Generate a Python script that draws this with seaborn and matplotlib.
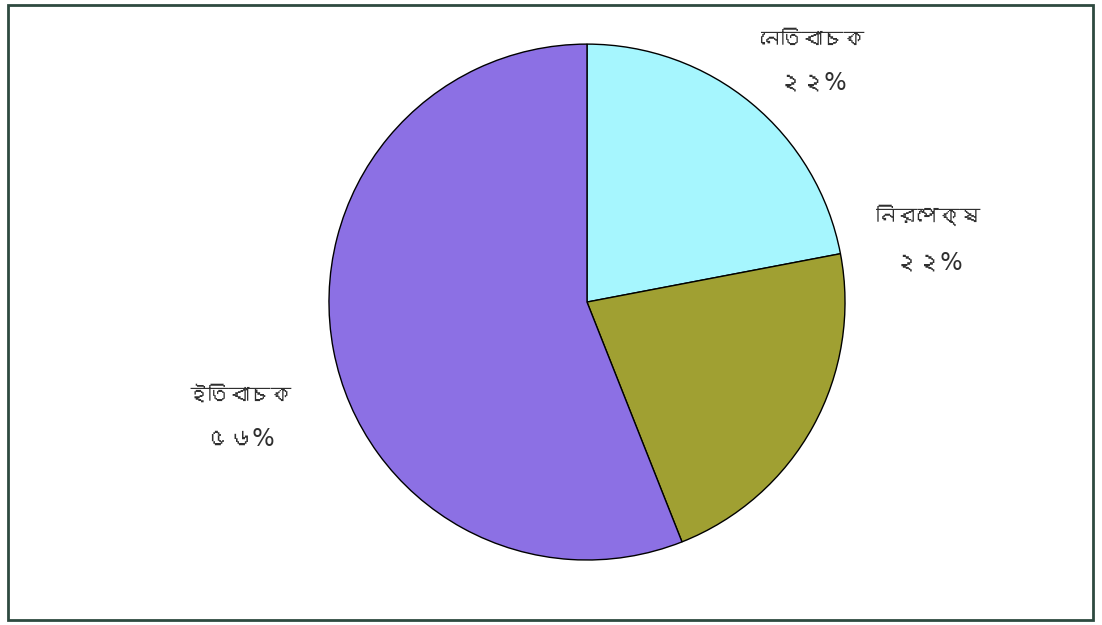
import matplotlib
matplotlib.use("Agg")
import matplotlib.pyplot as plt
import seaborn as sns
from matplotlib import font_manager
from matplotlib.patches import Rectangle

categories = ["নেতিবাচক", "নিরপেক্ষ", "ইতিবাচক"]
values = [22, 22, 56]
pct_labels = ["২২%", "২২%", "৫৬%"]
colors = ["#A6F6FE", "#A0A032", "#8C70E4"]

sns.set_theme(style="white")

# find a font with Bengali glyphs, if any
beng_family = None
try:
    from fontTools.ttLib import TTFont
    for f in font_manager.fontManager.ttflist:
        try:
            tt = TTFont(f.fname, fontNumber=0, lazy=True)
            cmap = tt.getBestCmap()
            if cmap and 0x09A8 in cmap and 0x09C7 in cmap:
                beng_family = f.name
                break
        except Exception:
            continue
except Exception:
    pass

families = ([beng_family] if beng_family else []) + ["DejaVu Sans"]
pct_families = ["DejaVu Sans"] + ([beng_family] if beng_family else [])
plt.rcParams["font.family"] = families

fig = plt.figure(figsize=(11.02, 6.25), dpi=100)
fig.patch.set_facecolor("white")
ax = fig.add_axes([0, 0, 1, 1])

ax.pie(values, colors=colors, startangle=90, counterclock=False,
       radius=1.0, wedgeprops=dict(edgecolor="black", linewidth=1.0))
ax.set_xlim(-2.275, 1.996)
ax.set_ylim(-1.252, 1.171)
ax.set_aspect("equal", adjustable="datalim")
ax.axis("off")

label_pos = [(0.872, 1.016, 0.850), (1.322, 0.337, 0.152), (-1.345, -0.360, -0.530)]
for (x, yn, yp), name, pct in zip(label_pos, categories, pct_labels):
    ax.text(x, yn, name, ha="center", va="center", fontsize=15,
            color="#2F2F2F", fontweight="bold")
    ax.text(x, yp, pct, ha="center", va="center", fontsize=17,
            color="#2F2F2F", family=pct_families)

fig.add_artist(Rectangle((8 / 1102, 5 / 625), (1093 - 8) / 1102, (620 - 5) / 625,
                         transform=fig.transFigure, fill=False,
                         edgecolor="#2E4A40", linewidth=2))

fig.savefig("out.png", dpi=100)
